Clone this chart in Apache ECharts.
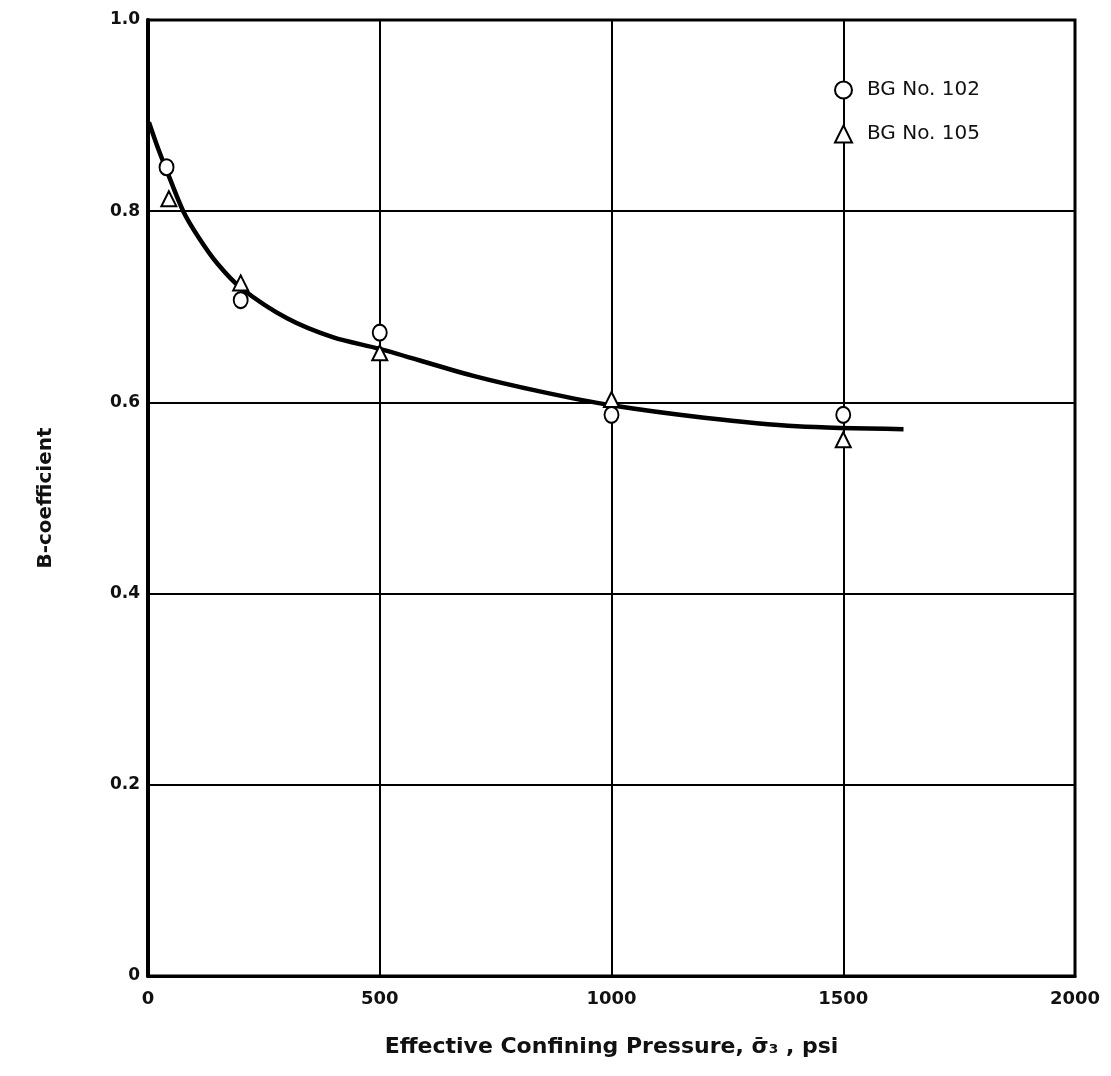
<!DOCTYPE html>
<html>
<head>
<meta charset="utf-8">
<script src="https://cdn.jsdelivr.net/npm/echarts@6/dist/echarts.min.js"></script>
<style>
  html, body { margin: 0; padding: 0; background: #fff; }
  #chart { width: 1111px; height: 1076px; }
</style>
</head>
<body>
<div id="chart"></div>
<script>
// data
const bg102 = [[40, 0.846], [200, 0.707], [500, 0.673], [1000, 0.587], [1500, 0.587]];
const bg105 = [[45, 0.813], [200, 0.725], [500, 0.652], [1000, 0.603], [1500, 0.561]];

// hand-drawn fitted curve
const curveX = [2, 20, 40, 76, 110, 150, 200, 300, 400, 500, 700, 850, 1000, 1200, 1400, 1630];
const curveY = [0.893, 0.868, 0.843, 0.800, 0.772, 0.745, 0.720, 0.688, 0.668, 0.656, 0.628, 0.611, 0.597, 0.584, 0.575, 0.572];

const xTicks = [0, 500, 1000, 1500, 2000];
const yTicks = [0, 0.2, 0.4, 0.6, 0.8, 1.0];

var chart = echarts.init(document.getElementById("chart"), null, { renderer: "canvas" });

var curve = [];
for (let i = 0; i < curveX.length; i++) {
  curve.push([curveX[i], curveY[i]]);
}

var font = "DejaVu Sans";
var markerStyle = { color: "#fff", borderColor: "#000", borderWidth: 2, opacity: 1 };

var option = {
  animation: false,
  backgroundColor: "#fff",
  grid: {
    left: 148,
    right: 36,
    top: 20,
    bottom: 100,
    show: true,
    borderColor: "#000",
    borderWidth: 3,
  },
  legend: {
    data: ["BG No. 102", "BG No. 105"],
    orient: "vertical",
    left: 829,
    top: 75,
    itemWidth: 17,
    itemHeight: 17,
    itemGap: 24,
    itemStyle: markerStyle,
    textStyle: { fontFamily: font, fontSize: 20, color: "#111", padding: [0, 0, 0, 10] },
  },
  xAxis: {
    type: "value",
    min: 0,
    max: 2000,
    interval: 500,
    name: "Effective Confining Pressure, σ\u0304\u2083 , psi",
    nameLocation: "middle",
    nameGap: 60,
    nameTextStyle: { fontFamily: font, fontSize: 22, fontWeight: "bold", color: "#111" },
    axisLine: { show: true, lineStyle: { color: "#000", width: 3 } },
    axisTick: { show: false },
    axisLabel: {
      fontFamily: font,
      fontSize: 18,
      fontWeight: "bold",
      color: "#111",
      margin: 14,
      formatter: function (v) {
        return String(v);
      },
    },
    splitLine: { show: true, lineStyle: { color: "#000", width: 2 } },
  },
  yAxis: {
    type: "value",
    min: 0,
    max: 1.0,
    interval: 0.2,
    name: "B-coefficient",
    nameLocation: "middle",
    nameGap: 92,
    nameTextStyle: { fontFamily: font, fontSize: 20, fontWeight: "bold", color: "#111" },
    axisLine: { show: true, lineStyle: { color: "#000", width: 4 } },
    axisTick: { show: false },
    axisLabel: {
      fontFamily: font,
      fontSize: 17,
      fontWeight: "bold",
      color: "#111",
      margin: 8,
      formatter: function (v) {
        return v === 0 ? "0" : v.toFixed(1);
      },
    },
    splitLine: { show: true, lineStyle: { color: "#000", width: 2 } },
  },
  series: [
    {
      name: "curve",
      type: "line",
      data: curve,
      smooth: 0.3,
      showSymbol: false,
      lineStyle: { color: "#000", width: 4.5 },
      z: 2,
    },
    {
      name: "BG No. 102",
      type: "scatter",
      data: bg102,
      symbol: "circle",
      symbolSize: [14, 16],
      itemStyle: markerStyle,
      z: 3,
    },
    {
      name: "BG No. 105",
      type: "scatter",
      data: bg105,
      symbol: "triangle",
      symbolSize: [15, 15],
      itemStyle: markerStyle,
      z: 3,
    },
  ],
};

chart.setOption(option);
</script>
</body>
</html>
